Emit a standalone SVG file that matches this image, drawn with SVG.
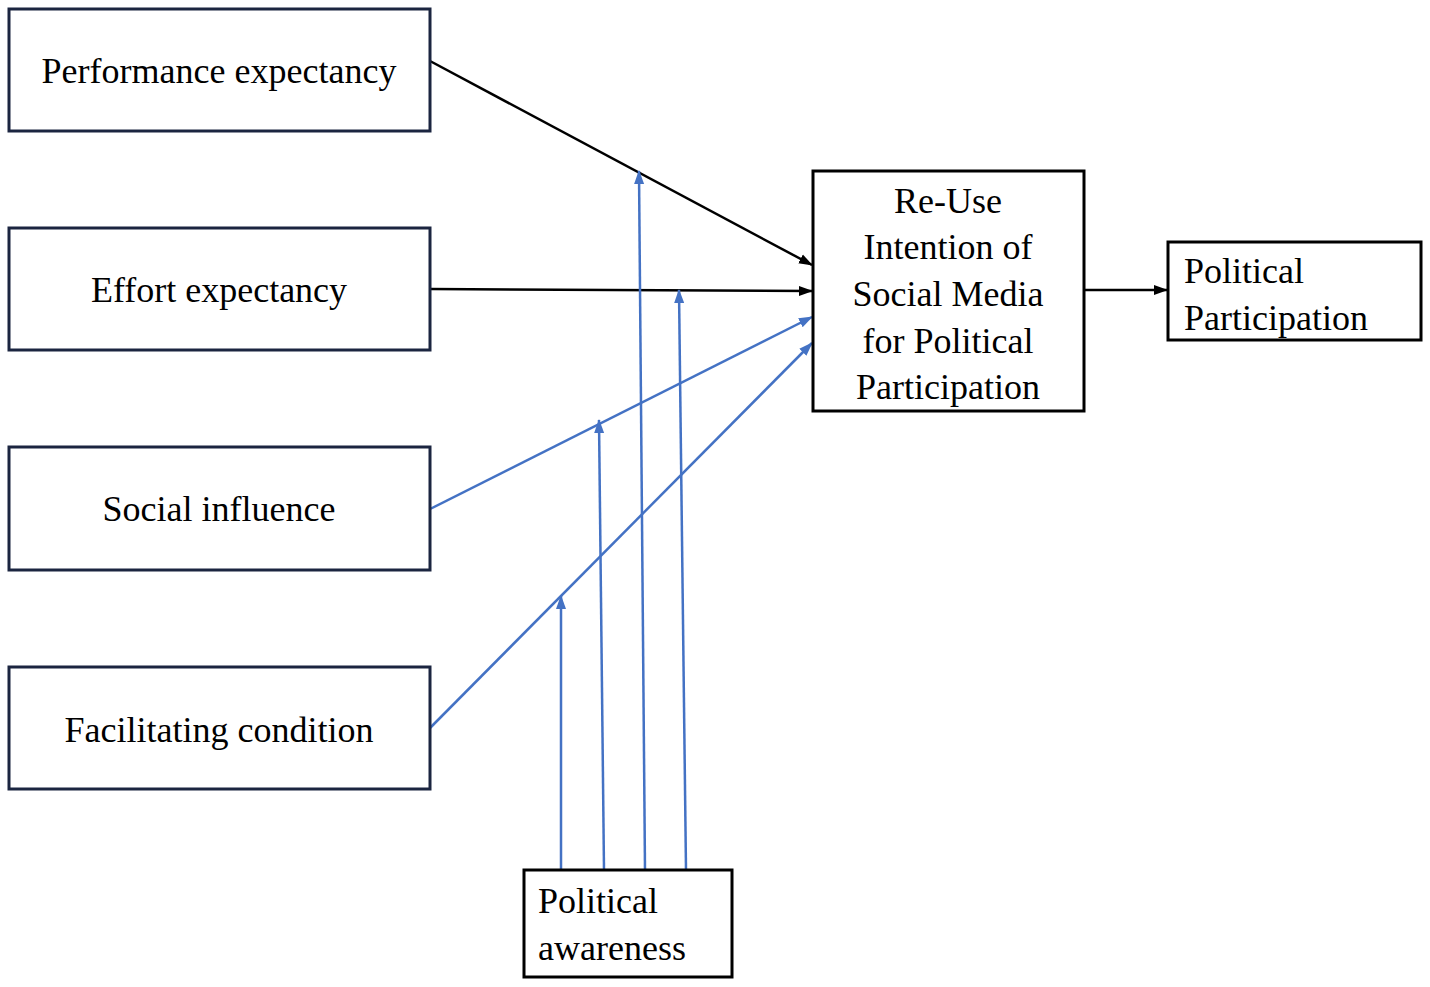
<svg xmlns="http://www.w3.org/2000/svg" width="1430" height="987" viewBox="0 0 1430 987">
<style>
.box{fill:#fff;stroke:#1b2540;stroke-width:3}
.bbox{fill:#fff;stroke:#000;stroke-width:3}
.c{text-anchor:middle}
.k{stroke:#000;stroke-width:2.5;fill:none}
.b{stroke:#4472c4;stroke-width:2.5;fill:none}
</style>
<defs>
<marker id="ak" markerWidth="14" markerHeight="12" refX="13" refY="6" orient="auto" markerUnits="userSpaceOnUse"><path d="M0,1 L14,6 L0,11 z" fill="#000"/></marker>
<marker id="ab" markerWidth="14" markerHeight="12" refX="13" refY="6" orient="auto" markerUnits="userSpaceOnUse"><path d="M0,1 L14,6 L0,11 z" fill="#4472c4"/></marker>
</defs>
<rect width="1430" height="987" fill="#fff"/>
<g id="connectors">
<line class="k" x1="430" y1="61" x2="812" y2="265" marker-end="url(#ak)"/>
<line class="k" x1="430" y1="289" x2="812" y2="291" marker-end="url(#ak)"/>
<line class="b" x1="430" y1="509" x2="812" y2="317" marker-end="url(#ab)"/>
<line class="b" x1="430" y1="728" x2="812" y2="343" marker-end="url(#ab)"/>
<line class="k" x1="1084" y1="290" x2="1167" y2="290" marker-end="url(#ak)"/>
<line class="b" x1="561" y1="870" x2="561" y2="596" marker-end="url(#ab)"/>
<line class="b" x1="604" y1="870" x2="599" y2="420" marker-end="url(#ab)"/>
<line class="b" x1="645" y1="870" x2="639" y2="171" marker-end="url(#ab)"/>
<line class="b" x1="686" y1="870" x2="679" y2="290" marker-end="url(#ab)"/>
</g>
<g font-family="'Liberation Serif', 'Times New Roman', 'DejaVu Serif', serif" font-size="36" fill="#000">
<g id="perf"><rect class="box" x="9" y="9" width="421" height="122"/><text class="c" x="219" y="83">Performance expectancy</text></g>
<g id="effort"><rect class="box" x="9" y="228" width="421" height="122"/><text class="c" x="219" y="302">Effort expectancy</text></g>
<g id="social"><rect class="box" x="9" y="447" width="421" height="123"/><text class="c" x="219" y="521">Social influence</text></g>
<g id="facil"><rect class="box" x="9" y="667" width="421" height="122"/><text class="c" x="219" y="742">Facilitating condition</text></g>
<g id="reuse"><rect class="bbox" x="813" y="171" width="271" height="240"/>
<text class="c" x="948" y="213">Re-Use</text>
<text class="c" x="948" y="259">Intention of</text>
<text class="c" x="948" y="306">Social Media</text>
<text class="c" x="948" y="353">for Political</text>
<text class="c" x="948" y="399">Participation</text></g>
<g id="pp"><rect class="bbox" x="1168" y="242" width="253" height="98"/><text x="1184" y="283">Political</text><text x="1184" y="330">Participation</text></g>
<g id="pa"><rect class="bbox" x="524" y="870" width="208" height="107"/><text x="538" y="913">Political</text><text x="538" y="960">awareness</text></g>
</g>
</svg>
